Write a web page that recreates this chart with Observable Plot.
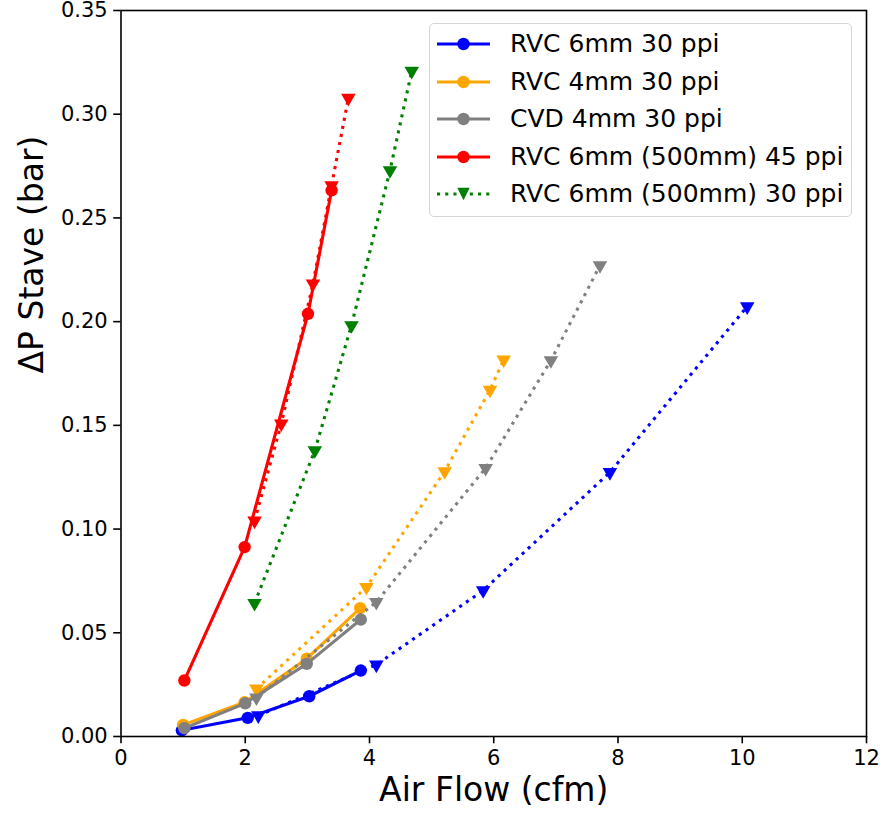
<!DOCTYPE html>
<html>
<head>
<meta charset="utf-8">
<script src="https://cdn.jsdelivr.net/npm/d3@7"></script>
<script src="https://cdn.jsdelivr.net/npm/@observablehq/plot@0.6"></script>
<style>
  html, body { margin: 0; padding: 0; background: #fff; overflow: hidden; }
  #wrap { position: relative; width: 885px; height: 814px; font-family: "DejaVu Sans", sans-serif; }
  #wrap svg { display: block; }
  .legend-box { position: absolute; left: 429px; top: 23px; width: 421px; height: 192px;
    border: 1.6px solid #d6d6d6; border-radius: 5px; background: rgba(255,255,255,0.8); }
  .legend-row { position: absolute; left: 437px; height: 30px; line-height: 30px; white-space: nowrap;
    font-size: 25px; color: #000; display: flex; }
  .legend-row svg { width: 53px; height: 30px; flex: none; }
  .legend-row span { margin-left: 20px; }
</style>
</head>
<body>
<div id="wrap"></div>
<script>
// ---- Data ----
const seriesNames = ["RVC 6mm 30 ppi", "RVC 4mm 30 ppi", "CVD 4mm 30 ppi", "RVC 6mm (500mm) 45 ppi", "RVC 6mm (500mm) 30 ppi"];
const seriesColors = ["blue", "orange", "gray", "red", "green"];

// first run (solid line, circle markers)
const rvc6_30_solidX = [0.98, 2.04, 3.03, 3.86];
const rvc6_30_solidY = [0.003, 0.009, 0.0194, 0.0318];
const rvc4_30_solidX = [1.00, 1.99, 2.99, 3.85];
const rvc4_30_solidY = [0.0056, 0.0165, 0.0375, 0.0619];
const cvd4_30_solidX = [1.02, 2.00, 2.99, 3.86];
const cvd4_30_solidY = [0.004, 0.016, 0.035, 0.0564];
const rvc6_45_solidX = [1.02, 1.99, 3.01, 3.39];
const rvc6_45_solidY = [0.027, 0.0913, 0.2038, 0.2633];

// second run (dotted line, down-triangle markers)
const rvc6_30_dotX = [2.21, 4.11, 5.83, 7.87, 10.08];
const rvc6_30_dotY = [0.0101, 0.0346, 0.0704, 0.1274, 0.2073];
const rvc4_30_dotX = [2.18, 3.95, 5.21, 5.94, 6.16];
const rvc4_30_dotY = [0.023, 0.072, 0.1278, 0.1671, 0.1816];
const cvd4_30_dotX = [2.18, 4.11, 5.87, 6.92, 7.71];
const cvd4_30_dotY = [0.0187, 0.0648, 0.1294, 0.1813, 0.2271];
const rvc6_45_dotX = [2.15, 2.58, 3.09, 3.39, 3.66];
const rvc6_45_dotY = [0.104, 0.1508, 0.2183, 0.2657, 0.3078];
const rvc6_500_30_dotX = [2.15, 3.12, 3.71, 4.33, 4.68];
const rvc6_500_30_dotY = [0.0643, 0.1379, 0.1982, 0.2729, 0.3208];

const xTicks = [0, 2, 4, 6, 8, 10, 12];
const yTicks = [0, 0.05, 0.10, 0.15, 0.20, 0.25, 0.30, 0.35];
const xLabel = "Air Flow (cfm)";
const yLabel = "ΔP Stave (bar)";

// ---- Build tables ----
const zip = (xs, ys) => xs.map((x, i) => ({x, y: ys[i]}));
const traces = [
  {data: zip(rvc6_30_solidX, rvc6_30_solidY), color: seriesColors[0], dotted: false},
  {data: zip(rvc4_30_solidX, rvc4_30_solidY), color: seriesColors[1], dotted: false},
  {data: zip(cvd4_30_solidX, cvd4_30_solidY), color: seriesColors[2], dotted: false},
  {data: zip(rvc6_45_solidX, rvc6_45_solidY), color: seriesColors[3], dotted: false},
  {data: zip(rvc6_500_30_dotX, rvc6_500_30_dotY), color: seriesColors[4], dotted: true},
  {data: zip(rvc6_30_dotX, rvc6_30_dotY), color: seriesColors[0], dotted: true},
  {data: zip(rvc4_30_dotX, rvc4_30_dotY), color: seriesColors[1], dotted: true},
  {data: zip(cvd4_30_dotX, cvd4_30_dotY), color: seriesColors[2], dotted: true},
  {data: zip(rvc6_45_dotX, rvc6_45_dotY), color: seriesColors[3], dotted: true}
];

const LW = 3.1;
const DASH = "3.1,5.1";
const traceMarks = traces.flatMap(t => [
  Plot.line(t.data, {x: "x", y: "y", stroke: t.color, strokeWidth: LW,
    strokeDasharray: t.dotted ? DASH : null, strokeLinecap: t.dotted ? "butt" : "square", strokeLinejoin: "round"}),
  t.dotted
    ? Plot.dot(t.data, {x: "x", y: "y", symbol: "triangle", rotate: 180, r: 5.4, fill: t.color, stroke: null})
    : Plot.dot(t.data, {x: "x", y: "y", symbol: "circle", r: 6.2, fill: t.color, stroke: null})
]);

const chart = Plot.plot({
  width: 885,
  height: 814,
  marginLeft: 120.5,
  marginRight: 19,
  marginTop: 10,
  marginBottom: 78,
  style: {fontFamily: "DejaVu Sans", background: "white", color: "black", overflow: "visible"},
  x: {domain: [0, 12]},
  y: {domain: [0, 0.35]},
  marks: [
    ...traceMarks,
    Plot.axisX({ticks: xTicks, tickSize: 7.3, tickPadding: 6, fontSize: 21, label: null, strokeWidth: 1.6, tickFormat: d3.format("d")}),
    Plot.axisY({ticks: yTicks, tickSize: 7.3, tickPadding: 6, fontSize: 21, label: null, strokeWidth: 1.6, tickFormat: d3.format(".2f")}),
    Plot.frame({stroke: "black", strokeWidth: 1.6}),
    Plot.text([xLabel], {frameAnchor: "bottom", dy: 64, lineAnchor: "bottom", fontSize: 33, text: d => d, fill: "black"}),
    Plot.text([yLabel], {frameAnchor: "left", dx: -78, rotate: -90, lineAnchor: "bottom", fontSize: 33, text: d => d, fill: "black"})
  ]
});

const wrap = document.getElementById("wrap");
wrap.appendChild(chart);

// ---- Legend (inside the axes, upper right) ----
const box = document.createElement("div");
box.className = "legend-box";
wrap.appendChild(box);
const rowCenters = [43.3, 81, 118.3, 156, 192.7];
seriesNames.forEach((name, i) => {
  const row = document.createElement("div");
  row.className = "legend-row";
  row.style.top = (rowCenters[i] - 15 + 1) + "px";
  const c = seriesColors[i];
  const dotted = i === 4;
  const marker = dotted
    ? `<polygon points="20.3,8.8 32.7,8.8 26.5,21.2" fill="${c}"/>`
    : `<circle cx="26.5" cy="15" r="6.2" fill="${c}"/>`;
  row.innerHTML = `<svg viewBox="0 0 53 30"><line x1="0" y1="15" x2="53" y2="15" stroke="${c}" stroke-width="${LW}" ${dotted ? `stroke-dasharray="${DASH}"` : ""}/>${marker}</svg><span>${name}</span>`;
  box.parentNode.appendChild(row);
});
</script>
</body>
</html>
